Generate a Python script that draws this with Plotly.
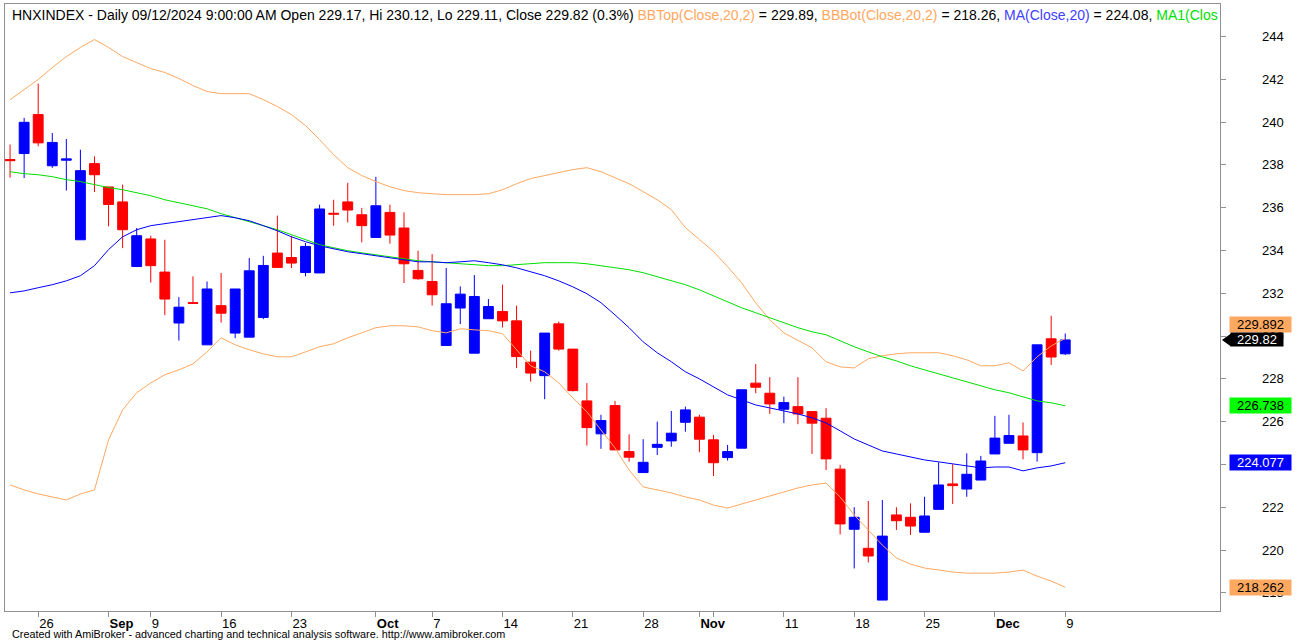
import plotly.graph_objects as go

# ---------------- data ----------------
dates = [
    "2024-08-22", "2024-08-23", "2024-08-26", "2024-08-27", "2024-08-28", "2024-08-29", "2024-08-30",
    "2024-09-04", "2024-09-05", "2024-09-06",
    "2024-09-09", "2024-09-10", "2024-09-11", "2024-09-12", "2024-09-13",
    "2024-09-16", "2024-09-17", "2024-09-18", "2024-09-19", "2024-09-20",
    "2024-09-23", "2024-09-24", "2024-09-25", "2024-09-26", "2024-09-27",
    "2024-09-30", "2024-10-01", "2024-10-02", "2024-10-03", "2024-10-04",
    "2024-10-07", "2024-10-08", "2024-10-09", "2024-10-10", "2024-10-11",
    "2024-10-14", "2024-10-15", "2024-10-16", "2024-10-17", "2024-10-18",
    "2024-10-21", "2024-10-22", "2024-10-23", "2024-10-24", "2024-10-25",
    "2024-10-28", "2024-10-29", "2024-10-30", "2024-10-31", "2024-11-01",
    "2024-11-04", "2024-11-05", "2024-11-06", "2024-11-07", "2024-11-08",
    "2024-11-11", "2024-11-12", "2024-11-13", "2024-11-14", "2024-11-15",
    "2024-11-18", "2024-11-19", "2024-11-20", "2024-11-21", "2024-11-22",
    "2024-11-25", "2024-11-26", "2024-11-27", "2024-11-28", "2024-11-29",
    "2024-12-02", "2024-12-03", "2024-12-04", "2024-12-05", "2024-12-06",
    "2024-12-09",
]

open_ = [238.25, 238.53, 240.35, 237.96, 238.22, 234.50, 238.06, 236.97, 236.27, 233.25,
         234.54, 232.99, 230.61, 231.56, 229.59, 231.42, 230.14, 229.95, 230.87, 233.88,
         233.67, 232.97, 232.95, 235.74, 236.27, 235.67, 234.61, 235.78, 235.05, 233.07,
         232.55, 229.56, 231.31, 229.20, 230.81, 231.15, 230.71, 228.78, 228.15, 230.57,
         229.39, 226.97, 225.43, 226.75, 224.60, 223.62, 224.80, 225.10, 225.97, 226.21,
         225.15, 224.32, 224.76, 227.80, 227.33, 226.58, 226.70, 226.47, 226.16, 223.78,
         220.97, 220.08, 217.66, 221.64, 221.53, 220.83, 221.90, 223.09, 222.85, 223.27,
         224.49, 224.99, 225.33, 224.55, 229.87, 229.17]
high = [238.95, 240.20, 241.80, 239.49, 239.21, 238.71, 238.40, 236.97, 237.08, 235.05,
        234.69, 234.50, 231.82, 232.79, 232.55, 232.95, 232.20, 233.65, 233.75, 235.63,
        234.69, 234.35, 236.14, 236.37, 237.16, 235.99, 237.44, 236.14, 235.78, 233.99,
        233.83, 233.18, 232.32, 232.85, 231.73, 232.40, 231.42, 229.32, 230.14, 230.68,
        229.39, 227.80, 226.32, 226.97, 225.41, 225.18, 226.00, 226.50, 226.70, 226.32,
        225.38, 224.91, 227.49, 228.69, 228.08, 227.17, 228.08, 226.47, 226.63, 223.98,
        222.00, 222.29, 222.34, 222.00, 222.18, 222.49, 224.10, 224.01, 224.52, 224.40,
        226.27, 226.32, 225.96, 229.59, 230.95, 230.12]
low = [237.40, 237.39, 238.87, 237.86, 236.80, 234.50, 236.73, 235.13, 234.11, 233.23,
       232.50, 230.98, 229.79, 231.50, 229.59, 230.63, 229.90, 229.95, 230.79, 233.18,
       233.18, 232.79, 232.95, 235.16, 235.31, 234.38, 234.61, 234.32, 232.48, 232.63,
       231.43, 229.56, 230.56, 229.20, 230.81, 230.40, 228.50, 227.87, 227.05, 229.32,
       227.41, 224.88, 224.73, 224.68, 224.13, 223.62, 224.44, 224.83, 225.53, 224.57,
       223.46, 224.18, 224.76, 227.33, 226.36, 225.93, 225.88, 224.49, 223.74, 220.73,
       219.14, 219.42, 217.66, 220.94, 220.70, 220.83, 221.90, 222.15, 222.49, 223.27,
       224.49, 224.99, 224.24, 224.13, 228.65, 229.11]
close = [238.20, 239.99, 239.03, 239.05, 238.28, 237.73, 237.54, 236.15, 234.97, 234.69,
         233.29, 231.73, 231.35, 231.53, 232.20, 231.07, 232.20, 233.05, 233.30, 233.21,
         233.41, 234.19, 235.94, 235.70, 235.89, 235.16, 236.09, 234.72, 233.38, 232.68,
         231.93, 231.51, 231.96, 231.85, 231.38, 230.71, 229.04, 228.27, 230.14, 229.39,
         227.45, 225.72, 226.05, 224.68, 224.34, 224.10, 224.94, 225.46, 226.55, 225.18,
         224.08, 224.60, 227.49, 227.61, 226.83, 226.89, 226.36, 225.93, 224.26, 221.22,
         221.53, 219.72, 220.65, 221.37, 221.12, 221.59, 223.04, 223.01, 223.54, 224.16,
         225.23, 225.35, 224.68, 229.59, 229.02, 229.82]

ma20 = [232.02, 232.11, 232.26, 232.40, 232.58, 232.82, 233.29, 234.04, 234.64, 234.97,
        235.16, 235.25, 235.34, 235.44, 235.53, 235.63, 235.53, 235.39, 235.16, 234.92,
        234.64, 234.41, 234.22, 234.08, 233.94, 233.85, 233.75, 233.66, 233.57, 233.47,
        233.47, 233.43, 233.47, 233.52, 233.43, 233.33, 233.19, 233.01, 232.82, 232.58,
        232.30, 231.98, 231.56, 230.99, 230.39, 229.73, 229.22, 228.80, 228.33, 228.00,
        227.63, 227.25, 227.02, 226.78, 226.64, 226.50, 226.36, 226.18, 225.94, 225.57,
        225.19, 224.91, 224.63, 224.49, 224.35, 224.21, 224.12, 224.02, 223.93, 223.84,
        223.88, 223.88, 223.70, 223.84, 223.93, 224.08]
ma1 = [237.68, 237.59, 237.54, 237.45, 237.31, 237.22, 237.08, 236.94, 236.84, 236.70,
       236.56, 236.37, 236.23, 236.09, 235.95, 235.72, 235.53, 235.34, 235.16, 234.97,
       234.74, 234.50, 234.27, 234.13, 233.99, 233.89, 233.80, 233.71, 233.61, 233.52,
       233.47, 233.43, 233.38, 233.33, 233.29, 233.29, 233.33, 233.38, 233.43, 233.43,
       233.43, 233.38, 233.29, 233.19, 233.10, 232.96, 232.77, 232.58, 232.40, 232.16,
       231.88, 231.60, 231.32, 231.09, 230.85, 230.62, 230.39, 230.20, 230.06, 229.78,
       229.50, 229.26, 229.03, 228.84, 228.61, 228.42, 228.23, 228.05, 227.86, 227.67,
       227.49, 227.35, 227.16, 226.97, 226.88, 226.74]
bb_top = [241.05, 241.52, 241.99, 242.55, 243.06, 243.49, 243.86, 243.49, 243.06, 242.78,
          242.50, 242.32, 242.04, 241.71, 241.43, 241.33, 241.33, 241.33, 241.05, 240.73,
          240.35, 239.84, 239.18, 238.48, 237.87, 237.50, 237.22, 236.98, 236.80, 236.70,
          236.65, 236.61, 236.61, 236.61, 236.65, 236.84, 237.12, 237.36, 237.50, 237.64,
          237.78, 237.87, 237.68, 237.40, 237.12, 236.75, 236.37, 235.91, 235.07, 234.51,
          233.95, 233.24, 232.49, 231.55, 230.76, 230.15, 229.78, 229.45, 228.80, 228.56,
          228.51, 228.94, 229.08, 229.17, 229.22, 229.22, 229.22, 229.08, 228.89, 228.61,
          228.61, 228.75, 228.37, 229.03, 229.54, 229.89]
bb_bot = [223.04, 222.81, 222.62, 222.48, 222.34, 222.62, 222.81, 225.15, 226.55, 227.35,
          227.81, 228.19, 228.42, 228.70, 229.26, 229.92, 229.59, 229.36, 229.17, 229.03,
          229.03, 229.26, 229.50, 229.64, 229.92, 230.15, 230.39, 230.48, 230.48, 230.43,
          230.25, 230.15, 230.34, 230.29, 230.25, 230.11, 229.36, 228.61, 228.33, 227.81,
          227.11, 226.46, 225.61, 224.77, 223.74, 222.95, 222.81, 222.67, 222.48, 222.34,
          222.10, 221.96, 222.15, 222.34, 222.53, 222.71, 222.90, 223.04, 223.13, 222.48,
          221.64, 220.94, 220.23, 219.63, 219.34, 219.16, 219.06, 218.97, 218.92, 218.92,
          218.92, 218.97, 219.06, 218.78, 218.55, 218.26]

x_tick_dates = ["2024-08-26", "2024-09-04", "2024-09-09", "2024-09-16", "2024-09-23",
                "2024-10-01", "2024-10-07", "2024-10-14", "2024-10-21", "2024-10-28",
                "2024-11-01", "2024-11-04", "2024-11-11", "2024-11-18", "2024-11-25",
                "2024-12-02", "2024-12-09"]
x_tick_text = ["26", "<b>Sep</b>", "9", "16", "23", "<b>Oct</b>", "7", "14", "21", "28",
               "<b>Nov</b>", "", "11", "18", "25", "<b>Dec</b>", "9"]
y_ticks = [218, 220, 222, 224, 226, 228, 230, 232, 234, 236, 238, 240, 242, 244]

# value tags: (value, text, bg, fg, yshift)
tags = [
    (229.892, "229.892", "#FFA860", "black", 14),
    (226.738, "226.738", "#00FF00", "black", 0),
    (224.077, "224.077", "#0000FF", "white", 0),
    (218.262, "218.262", "#FFA860", "black", 0),
]
last_close = 229.82

# ---------------- figure ----------------
W, H = 1302, 641
ML, MR, MT, MB = 5, 82, 4, 30
PW = W - ML - MR
PH = H - MT - MB
Y0, Y1 = 217.15, 245.52

BAND = "#FFA860"
fig = go.Figure()
fig.add_trace(go.Scatter(x=dates, y=bb_top, mode="lines", line=dict(color=BAND, width=1), hoverinfo="skip"))
fig.add_trace(go.Scatter(x=dates, y=bb_bot, mode="lines", line=dict(color=BAND, width=1), hoverinfo="skip"))
fig.add_trace(go.Scatter(x=dates, y=ma1, mode="lines", line=dict(color="#00E000", width=1), hoverinfo="skip"))
fig.add_trace(go.Scatter(x=dates, y=ma20, mode="lines", line=dict(color="#0000FF", width=1), hoverinfo="skip"))
fig.add_trace(go.Candlestick(
    x=dates, open=open_, high=high, low=low, close=close,
    increasing=dict(line=dict(color="#0000FF", width=1), fillcolor="#0000FF"),
    decreasing=dict(line=dict(color="#FF0000", width=1), fillcolor="#FF0000"),
    whiskerwidth=0,
))

fig.update_layout(
    width=W, height=H,
    margin=dict(l=ML, r=MR, t=MT, b=MB, autoexpand=False),
    paper_bgcolor="white", plot_bgcolor="white",
    showlegend=False,
    font=dict(family="Liberation Sans, Arial, sans-serif", size=13, color="black"),
    boxgap=0.3, boxgroupgap=0,
)
fig.update_xaxes(
    type="category", range=[-0.36, 86.0],
    rangeslider=dict(visible=False),
    showgrid=False, zeroline=False,
    showline=True, linecolor="#909090", linewidth=1, mirror=True,
    ticks="outside", ticklen=5, tickcolor="#909090",
    tickvals=x_tick_dates, ticktext=x_tick_text,
    ticklabelposition="outside right",
    tickfont=dict(size=13, color="black"),
)
fig.update_yaxes(
    side="right", range=[Y0, Y1],
    showgrid=False, zeroline=False,
    showline=True, linecolor="#909090", linewidth=1, mirror=True,
    ticks="outside", ticklen=5, tickcolor="#909090",
    tickvals=y_ticks, showticklabels=False,
)

# right-aligned price scale labels
for v in y_ticks:
    fig.add_annotation(xref="paper", yref="y", x=(1286 - ML) / PW, y=v,
                       xanchor="right", yanchor="middle", showarrow=False, text=str(v),
                       font=dict(size=13, color="black"))

# title line
title_html = ("HNXINDEX - Daily 09/12/2024 9:00:00 AM Open 229.17, Hi 230.12, Lo 229.11, Close 229.82 (0.3%) "
              "<span style='color:#FFA860'>BBTop(Close,20,2)</span> = 229.89, "
              "<span style='color:#FFA860'>BBBot(Close,20,2)</span> = 218.26, "
              "<span style='color:#4040FF'>MA(Close,20)</span> = 224.08, "
              "<span style='color:#00E000'>MA1(Clos</span>")
fig.add_annotation(xref="paper", yref="paper", x=(10 - ML) / PW, y=1 - (15 - MT) / PH,
                   xanchor="left", yanchor="middle", showarrow=False, text=title_html,
                   font=dict(size=14, color="black"))

# footer
fig.add_annotation(xref="paper", yref="paper", x=(10 - ML) / PW, y=-(634 - (H - MB)) / PH,
                   xanchor="left", yanchor="middle", showarrow=False,
                   text="Created with AmiBroker - advanced charting and technical analysis software. http://www.amibroker.com",
                   font=dict(size=10.8, color="black"))

# value tags
for val, txt, bg, fg, ys in tags:
    fig.add_annotation(xref="paper", yref="y", x=(1229 - ML) / PW, y=val, yshift=ys,
                       xanchor="left", yanchor="middle", showarrow=False, text=txt,
                       width=59, height=13, align="center", bgcolor=bg, borderpad=1,
                       font=dict(size=13, color=fg))

# last close tag with pointer
fig.add_annotation(xref="paper", yref="y", x=(1230 - ML) / PW, y=last_close,
                   xanchor="left", yanchor="middle", showarrow=False, text=f"{last_close:.2f}",
                   width=50, height=11, align="center", bgcolor="black", borderpad=1,
                   font=dict(size=13, color="white"))
dy = 6.5 / (PH / (Y1 - Y0))
x_tip = (1222 - ML) / PW
x_base = (1231 - ML) / PW
fig.add_shape(type="path", xref="paper", yref="y",
              path=f"M {x_tip} {last_close} L {x_base} {last_close + dy} L {x_base} {last_close - dy} Z",
              fillcolor="black", line=dict(width=0))

fig.write_html("out.html", config={"displayModeBar": False},
               post_script="document.body.style.margin='0';")
